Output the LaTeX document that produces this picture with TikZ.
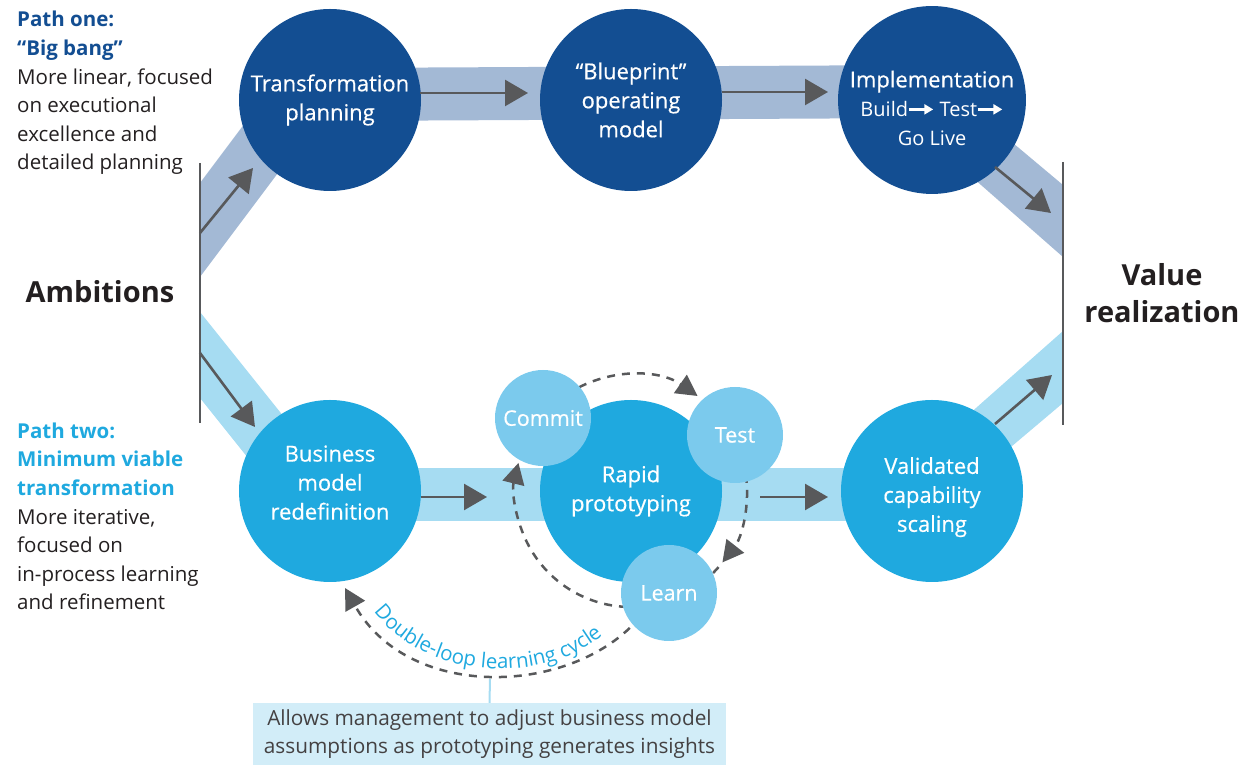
\documentclass[tikz,border=0pt]{standalone}
\usepackage{fontspec}
\setmainfont{Open Sans}
\newfontface\stageface{Open Sans}[FakeBold=0.5]
\usetikzlibrary{arrows.meta,calc,decorations.text}

\definecolor{darkblue}{HTML}{134E92}
\definecolor{midblue}{HTML}{1FA9DF}
\definecolor{paleblue}{HTML}{7BCAED}
\definecolor{topband}{HTML}{A3B9D5}
\definecolor{lowband}{HTML}{A6DCF2}
\definecolor{arrowgray}{HTML}{58595B}
\definecolor{notefill}{HTML}{D2EDF8}
\definecolor{inkblack}{HTML}{231F20}

\newcommand{\whitearrow}{% small white arrow inside the implementation circle
  \tikz[baseline=-7pt]\draw[white, line width=2.4pt, -{Triangle[length=9pt,width=10pt]}] (0,0) -- (24pt,0);}
\newcommand{\pathone}[1]{\textcolor{darkblue}{\bfseries #1}}
\newcommand{\pathtwo}[1]{\textcolor{midblue}{\bfseries #1}}
\newcommand{\lowerby}[1]{\rule{0pt}{#1}}      % taller first line
\newcommand{\raiseby}[1]{\rule[-#1]{0pt}{0pt}} % deeper last line
\newcommand{\stepline}{\fontsize{20}{27}\rmfamily}

\tikzset{
  topstage/.style={circle, fill=darkblue, minimum size=182pt, inner sep=0pt,
    align=center, text=white, font=\fontsize{22}{29}\stageface},
  lowstage/.style={topstage, fill=midblue},
  cyclestep/.style={circle, fill=paleblue, minimum size=96pt, inner sep=0pt,
    text=white, font=\fontsize{21.5}{24}\stageface},
  flowarrow/.style={draw=arrowgray, line width=2.6pt, -{Triangle[length=23pt,width=26pt]}},
  loopline/.style={draw=arrowgray, line width=2.5pt, dash pattern=on 8pt off 7pt},
  looptip/.style={-{Triangle[length=21pt,width=22pt]}},
  endline/.style={draw=arrowgray, line width=2.2pt},
  sidetext/.style={align=left, inner sep=0pt, text=inkblack,
    font=\fontsize{20.5}{28.6}\selectfont},
  goal/.style={align=center, inner sep=0pt, text=inkblack,
    font=\fontsize{29}{37}\selectfont\bfseries},
  notebox/.style={fill=notefill, minimum width=473pt, minimum height=62pt, inner sep=0pt,
    align=center, text=inkblack!85, font=\fontsize{20.8}{28}\selectfont}
}

\begin{document}
\begin{tikzpicture}[x=1pt,y=1pt]
  \useasboundingbox (0,0) rectangle (1248,765);

  % bands
  \fill[topband] (200,582) -- (290,702) -- (290,608) -- (200,488) -- cycle;
  \fill[topband] (330,644) -- (330,697) -- (932,700) -- (932,647) -- cycle;
  \fill[topband] (970,658) -- (1063,580) -- (1063,508) -- (940,616) -- cycle;
  \fill[lowband] (200,453) -- (300,328) -- (300,242) -- (200,367) -- cycle;
  \fill[lowband] (330,244) -- (330,297) -- (932,297) -- (932,244) -- cycle;
  \fill[lowband] (950,334) -- (1063,434) -- (1063,362) -- (960,275) -- cycle;

  % start and end bars
  \draw[endline] (200,602) -- (200,342);
  \draw[endline] (1063,603) -- (1063,340);
  \node[goal, anchor=base] (ambitions) at (100,462) {Ambitions};
  \node[goal] (value) at (1162,472) {Value\\realization};

  % stages
  \node[topstage] (plan) at (330,665) {Transformation\\planning};
  \node[topstage] (blueprint) at (631,665) {“Blueprint”\\operating\\model};
  \node[topstage] (impl) at (932,665) {\lowerby{33pt}Implementation\\{\stepline Build\whitearrow\ Test\whitearrow}\\{\stepline Go Live}};
  \node[lowstage] (bizmodel) at (330,274) {Business\\model\\redefinition\raiseby{17pt}};
  \node[lowstage] (rapid) at (631,274) {Rapid\\prototyping};
  \node[lowstage] (scaling) at (932,274) {\lowerby{29pt}Validated\\capability\\scaling};

  % arrow ends
  \coordinate (ambup) at (200,532);   \coordinate (planin) at (253,597);
  \coordinate (ambdown) at (200,412); \coordinate (bizin) at (255,338);
  \coordinate (planout) at (420,672); \coordinate (bluein) at (528,672);
  \coordinate (blueout) at (722,673); \coordinate (implin) at (828,673);
  \coordinate (implout) at (995,598); \coordinate (valuetop) at (1051,552);
  \coordinate (bizout) at (421,268);  \coordinate (rapidin) at (487,268);
  \coordinate (rapidout) at (760,268); \coordinate (scalein) at (828,268);
  \coordinate (scaleout) at (995,341); \coordinate (valuelow) at (1052,390);

  \draw[flowarrow] (ambup) -- (planin);
  \draw[flowarrow] (ambdown) -- (bizin);
  \draw[flowarrow] (planout) -- (bluein);
  \draw[flowarrow] (blueout) -- (implin);
  \draw[flowarrow] (implout) -- (valuetop);
  \draw[flowarrow] (bizout) -- (rapidin);
  \draw[flowarrow] (rapidout) -- (scalein);
  \draw[flowarrow] (scaleout) -- (valuelow);

  % inner learning cycle round the prototyping stage
  \draw[loopline, looptip] ($(rapid.center)+(124:116)$) arc[start angle=124, end angle=55, radius=116];
  \draw[loopline, looptip] ($(rapid.center)+(8:116)$) arc[start angle=8, end angle=-38, radius=116];
  \draw[loopline] ($(rapid.center)+(-41:116)$) arc[start angle=-41, end angle=-55, radius=116];
  \draw[loopline, looptip] ($(rapid.center)+(268:116)$) arc[start angle=268, end angle=166, radius=116];

  % double loop back to the business model
  \coordinate (learnfoot) at (640,148);
  \coordinate (bizfoot) at (345,177);
  \coordinate (loopbottom) at (490,86);
  \draw[loopline, looptip] (learnfoot) .. controls (575,70) and (410,62) .. (bizfoot);
  \path[decorate, decoration={text along path, text align=center,
    text={|\fontsize{20.5}{20}\selectfont\color{midblue}|Double-loop learning cycle}}]
    (362,172) .. controls (410,78) and (562,74) .. (618,146);

  \node[cyclestep] (commit) at (543,347) {Commit};
  \node[cyclestep] (test) at (735,330) {Test};
  \node[cyclestep] (learn) at (669,172) {Learn};

  % note
  \node[notebox] (note) at (489.5,31) {Allows management to adjust business model\\assumptions as prototyping generates insights};
  \draw[lowband, line width=2pt] (note.north) -- (loopbottom);

  % side texts
  \node[sidetext, anchor=base west] (pathonetext) at (17,595) {\pathone{Path one:}\\\pathone{“Big bang”}\\More linear, focused\\on executional\\excellence and\\detailed planning};
  \node[sidetext, anchor=base west] (pathtwotext) at (17,155) {\pathtwo{Path two:}\\\pathtwo{Minimum viable}\\\pathtwo{transformation}\\More iterative,\\focused on\\in-process learning\\and refinement};
\end{tikzpicture}
\end{document}
